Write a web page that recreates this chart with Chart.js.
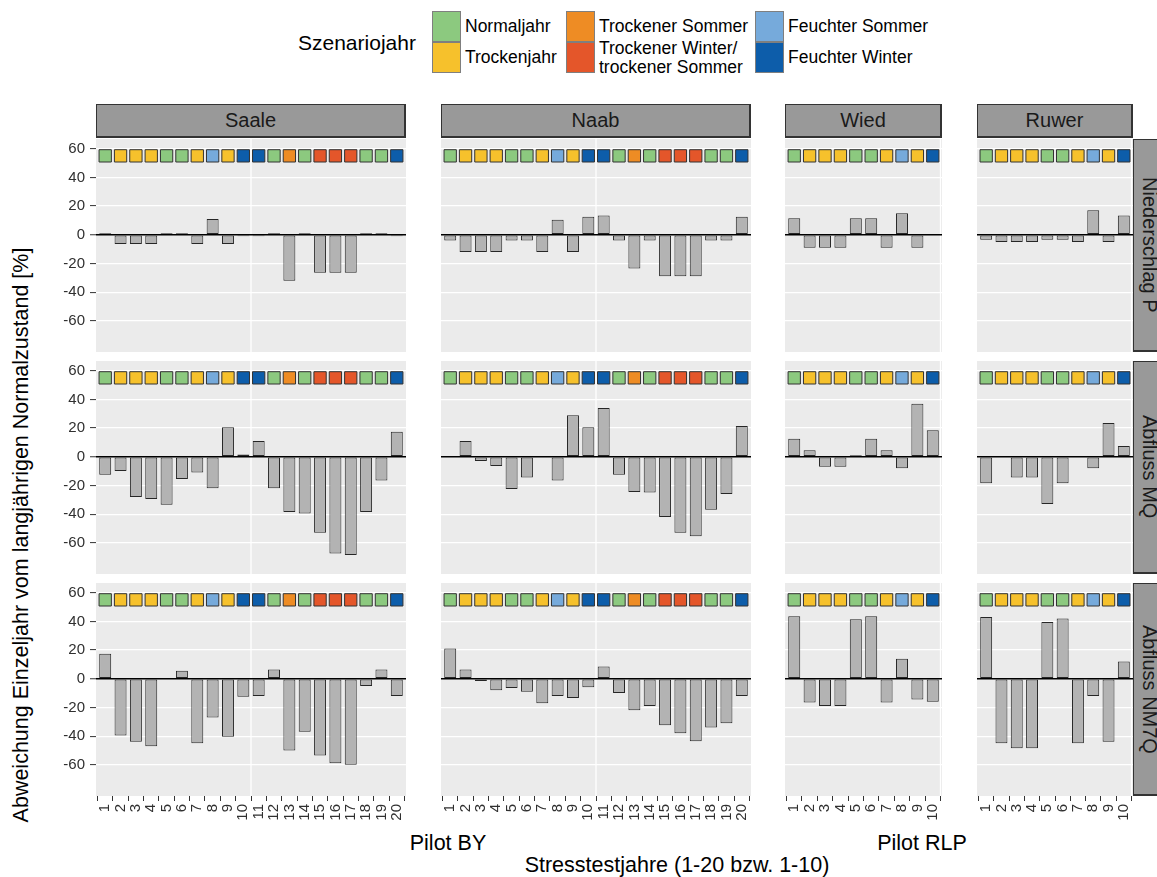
<!DOCTYPE html>
<html>
<head>
<meta charset="utf-8">
<script src="https://cdn.jsdelivr.net/npm/chart.js@4"></script>
<style>
html,body{margin:0;padding:0;background:#fff;}
body{width:1157px;height:877px;position:relative;overflow:hidden;font-family:'Liberation Sans',Arial,sans-serif;color:#1a1a1a;}
.strip{position:absolute;background:#999999;border:1px solid #333;border-right-width:2px;border-bottom-width:2px;box-sizing:border-box;display:flex;align-items:center;justify-content:center;font-size:20px;color:#1a1a1a;overflow:hidden;}
.vstrip{writing-mode:vertical-rl;}
.txt{position:absolute;white-space:nowrap;}
.key{position:absolute;box-sizing:border-box;border:1px solid #7f7f7f;}
.klabel{position:absolute;font-size:17.5px;line-height:19px;white-space:pre-line;display:flex;align-items:center;color:#000;}
.panel{position:absolute;}
</style>
</head>
<body>
<script>
// ---------------- data ----------------
const yearsBY  = [1,2,3,4,5,6,7,8,9,10,11,12,13,14,15,16,17,18,19,20];
const yearsRLP = [1,2,3,4,5,6,7,8,9,10];

const scenarioNames  = ['Normaljahr','Trockenjahr','Trockener Sommer','Trockener Winter/\ntrockener Sommer','Feuchter Sommer','Feuchter Winter'];
const scenarioColors = ['#8CC97F','#F6C12C','#EE8C24','#E4562A','#76AADB','#0D5DAA'];
const scenarioBY  = [0,1,1,1,0,0,1,4,1,5,5,0,2,0,3,3,3,0,0,5];
const scenarioRLP = [0,1,1,1,0,0,1,4,1,5];

const rivers    = ['Saale','Naab','Wied','Ruwer'];
const variables = ['Niederschlag P','Abfluss MQ','Abfluss NM7Q'];
const pilots    = ['Pilot BY','Pilot RLP'];
const yTitle = 'Abweichung Einzeljahr vom langjährigen Normalzustand [%]';
const xTitle = 'Stresstestjahre (1-20 bzw. 1-10)';
const legendTitle = 'Szenariojahr';

const yTicks = [-60,-40,-20,0,20,40,60];
const yLimits = [-75, 60];
const markerLevel = 55;
const separatorAt = 10.5;

const saaleP   = [1,-6.5,-6.5,-6.5,1,1,-6.5,11,-6.5,-1,-1,1,-32,1,-26.5,-26.5,-26.5,1,1,-1];
const naabP    = [-4,-12,-12,-12,-4,-4,-12,10.5,-12,12.5,13.5,-4,-23.5,-4,-29,-29,-29,-4,-4,12.5];
const wiedP    = [11.5,-9,-9,-9,11.5,11.5,-9,15,-9,0];
const ruwerP   = [-3.5,-5,-5,-5,-3.5,-3.5,-5,17,-5,13.5];

const saaleMQ  = [-12.5,-10,-28,-29.5,-33.5,-15.5,-11,-22,20.5,1.5,11,-22,-38.5,-39.5,-53,-67.5,-68.5,-38.5,-16.5,17.5];
const naabMQ   = [0,11,-3,-6.5,-22.5,-14.5,0,-16.5,29,20.5,34,-12.5,-24.5,-25,-42,-53,-55.5,-37,-26,21.5];
const wiedMQ   = [12.5,4.5,-7,-7,1,12.5,4.5,-8,37,18.5];
const ruwerMQ  = [-18.5,0,-14.5,-14.5,-33,-18.5,0,-8,23.5,7.5];

const saaleNM7Q = [17.5,-39.5,-44,-47,0,5.5,-45,-27,-40.5,-12.5,-12,6.5,-50,-37,-53.5,-59,-60,-5,6.5,-12];
const naabNM7Q  = [21,6.5,-1.5,-8,-6.5,-9,-17,-12,-13.5,-6,8.5,-10,-22,-19,-32.5,-38,-43.5,-34,-31,-12];
const wiedNM7Q  = [43.5,-16.5,-19,-19,41.5,43.5,-16.5,14,-14.5,-16];
const ruwerNM7Q = [43,-45,-48.5,-48.5,39.5,42,-45,-12,-44,12];

// ---------------- layout (positions only) ----------------
const colLeft  = [96, 441, 785, 977];
const colWidth = [310, 310, 157, 156];
const rowTop   = [139, 361, 583];
const rowHeight = 213;
const YW = 56, XH = 30;

Chart.defaults.font.family = "'Liberation Sans', Arial, sans-serif";

const series = [
  [saaleP, naabP, wiedP, ruwerP],
  [saaleMQ, naabMQ, wiedMQ, ruwerMQ],
  [saaleNM7Q, naabNM7Q, wiedNM7Q, ruwerNM7Q]
];
const colYears = [yearsBY, yearsBY, yearsRLP, yearsRLP];
const colScen  = [scenarioBY, scenarioBY, scenarioRLP, scenarioRLP];

const expand = (yLimits[1]-yLimits[0])*0.05;
const yMin = yLimits[0]-expand, yMax = yLimits[1]+expand;

const panelBg = {
  id: 'panelBg',
  beforeDraw(chart) {
    const {ctx, chartArea: a, scales} = chart;
    ctx.save();
    ctx.fillStyle = '#EBEBEB';
    ctx.fillRect(a.left, a.top, a.width, a.height);
    const px = scales.x.getPixelForValue(separatorAt);
    ctx.strokeStyle = '#FFFFFF';
    ctx.lineWidth = 1.3;
    ctx.beginPath();
    ctx.moveTo(px, a.top); ctx.lineTo(px, a.bottom);
    ctx.stroke();
    ctx.restore();
  }
};

function makePanel(ci, ri) {
  const years = colYears[ci], scen = colScen[ci], vals = series[ri][ci];
  const yw = ci === 0 ? YW : 0, xh = ri === 2 ? XH : 0;
  const W = colWidth[ci] + yw, H = rowHeight + xh;
  const div = document.createElement('div');
  div.className = 'panel';
  div.style.left = (colLeft[ci] - yw) + 'px';
  div.style.top = rowTop[ri] + 'px';
  div.style.width = W + 'px';
  div.style.height = H + 'px';
  const cvs = document.createElement('canvas');
  cvs.width = W; cvs.height = H;
  cvs.style.width = W + 'px'; cvs.style.height = H + 'px';
  div.appendChild(cvs);
  document.body.appendChild(div);

  new Chart(cvs, {
    type: 'bar',
    data: {
      datasets: [
        {
          type: 'bar',
          data: years.map((x, i) => ({x: x, y: vals[i]})),
          backgroundColor: '#B3B3B3',
          borderColor: '#262626',
          borderWidth: 1,
          borderSkipped: false,
          barPercentage: 0.78,
          categoryPercentage: 1,
          order: 2
        },
        {
          type: 'scatter',
          data: years.map(x => ({x: x, y: markerLevel})),
          pointStyle: 'rect',
          pointRadius: 8.7,
          pointHoverRadius: 8.7,
          backgroundColor: scen.map(s => scenarioColors[s]),
          borderColor: '#333333',
          borderWidth: 1,
          order: 1
        }
      ]
    },
    options: {
      responsive: false,
      animation: false,
      events: [],
      layout: {padding: 0, autoPadding: false},
      plugins: {legend: {display: false}, tooltip: {enabled: false}},
      scales: {
        x: {
          type: 'linear',
          min: 0.4,
          max: years.length + 0.6,
          offset: false,
          afterBuildTicks: s => { s.ticks = years.map(v => ({value: v})); },
          afterFit: s => { s.height = xh; s.paddingLeft = 0; s.paddingRight = 0; },
          grid: {display: true, drawOnChartArea: false, drawTicks: ri === 2, tickLength: 5, tickColor: '#333', tickWidth: 1},
          border: {display: false},
          ticks: {display: ri === 2, autoSkip: false, minRotation: 90, maxRotation: 90, padding: 3,
                  font: {size: 15}, color: '#303030'}
        },
        y: {
          type: 'linear',
          min: yMin,
          max: yMax,
          afterBuildTicks: s => { s.ticks = yTicks.map(v => ({value: v})); },
          afterFit: s => { s.width = yw; s.paddingTop = 0; s.paddingBottom = 0; },
          grid: {
            color: c => (c.tick && c.tick.value === 0) ? '#000000' : '#FFFFFF',
            lineWidth: c => (c.tick && c.tick.value === 0) ? 1.5 : 1.2,
            drawTicks: ci === 0, tickLength: 6, tickColor: '#333', tickWidth: 1
          },
          border: {display: false},
          ticks: {display: ci === 0, padding: 5, font: {size: 15}, color: '#303030'}
        }
      }
    },
    plugins: [panelBg]
  });
}

for (let r = 0; r < 3; r++) for (let c = 0; c < 4; c++) makePanel(c, r);

function addDiv(cls, text, style) {
  const d = document.createElement('div');
  d.className = cls;
  d.textContent = text;
  Object.assign(d.style, style);
  document.body.appendChild(d);
  return d;
}

// strips
rivers.forEach((name, ci) => {
  addDiv('strip', name, {left: colLeft[ci] + 'px', top: '104px', width: colWidth[ci] + 'px', height: '34px'});
});
variables.forEach((name, ri) => {
  addDiv('strip vstrip', name, {left: '1133px', top: rowTop[ri] + 'px', width: '34px', height: rowHeight + 'px'});
});

// legend
addDiv('txt', legendTitle, {left: '298px', top: '31px', fontSize: '21px', color: '#000'});
const keyX = [432, 566, 755], keyY = [11, 42], keyW = 29, keyH = 31;
scenarioNames.forEach((name, i) => {
  const col = Math.floor(i / 2), row = i % 2;
  addDiv('key', '', {left: keyX[col] + 'px', top: keyY[row] + 'px', width: keyW + 'px', height: keyH + 'px', background: scenarioColors[i]});
  addDiv('klabel', name, {left: (keyX[col] + keyW + 4) + 'px', top: keyY[row] + 'px', height: keyH + 'px'});
});

// axis titles
addDiv('txt', pilots[0], {left: '448px', top: '843px', fontSize: '21.5px', transform: 'translate(-50%,-50%)', color: '#000'});
addDiv('txt', pilots[1], {left: '922px', top: '843px', fontSize: '21.5px', transform: 'translate(-50%,-50%)', color: '#000'});
addDiv('txt', xTitle, {left: '677px', top: '865px', fontSize: '21.5px', transform: 'translate(-50%,-50%)', color: '#000'});
addDiv('txt', yTitle, {left: '21px', top: '535px', fontSize: '21.5px', transform: 'translate(-50%,-50%) rotate(-90deg)', color: '#000'});
</script>
</body>
</html>
